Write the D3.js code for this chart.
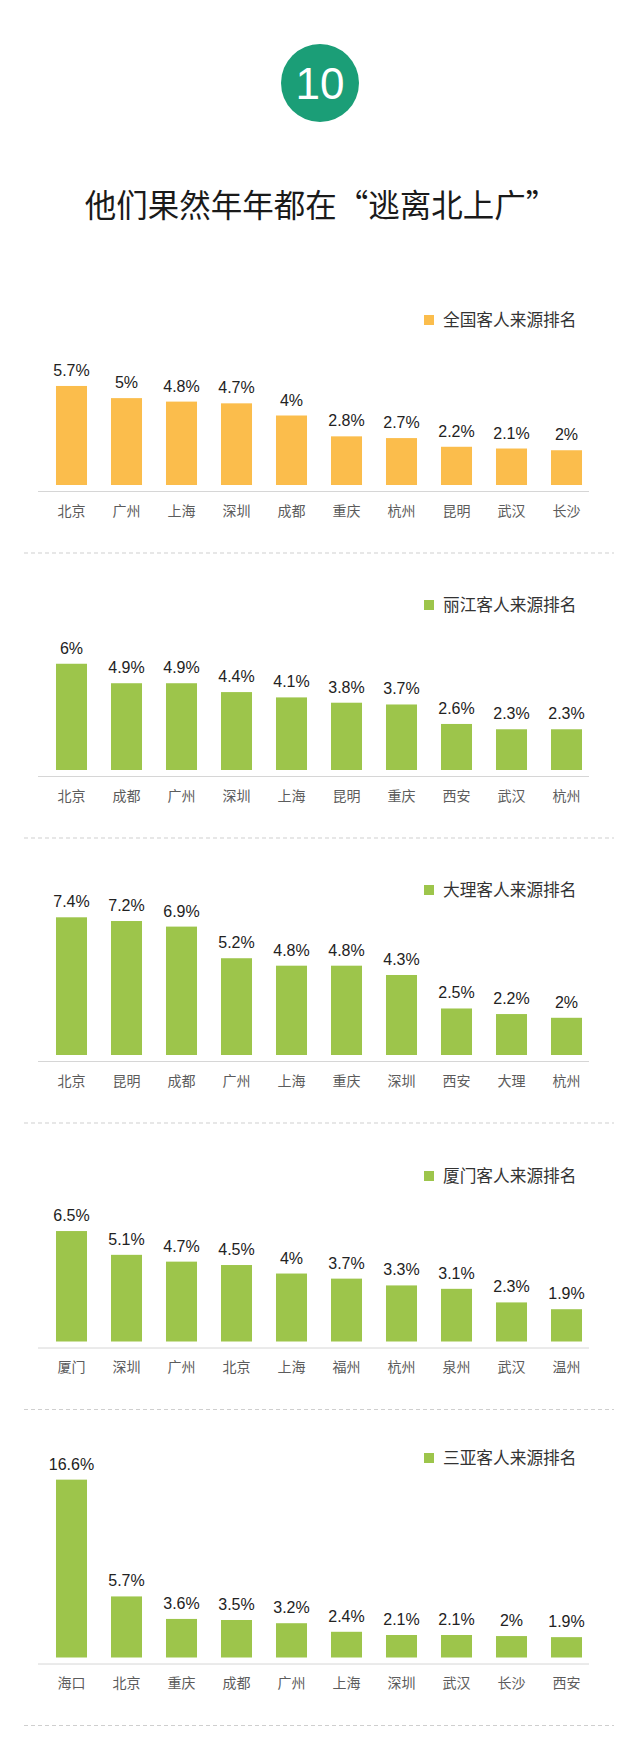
<html>
<head>
  <meta charset="utf-8">
  <script src="https://cdn.jsdelivr.net/npm/d3@7"></script>
  <style>
  body { margin: 0; background: #fff; }
  svg { display: block; }
  .cjk { font-family: "Noto Sans CJK SC", "Noto Sans", sans-serif; }
  .num { font-family: "Liberation Sans", Arial, sans-serif; }
  </style>
</head>
<body>
  <svg id="page" width="640" height="1737"></svg>
  <script>

var badge = "10";
var pageTitle = "他们果然年年都在“逃离北上广”";

var legendNames = ["全国客人来源排名", "丽江客人来源排名", "大理客人来源排名", "厦门客人来源排名", "三亚客人来源排名"];

var cities1 = ["北京", "广州", "上海", "深圳", "成都", "重庆", "杭州", "昆明", "武汉", "长沙"];
var values1 = [5.7, 5, 4.8, 4.7, 4, 2.8, 2.7, 2.2, 2.1, 2];

var cities2 = ["北京", "成都", "广州", "深圳", "上海", "昆明", "重庆", "西安", "武汉", "杭州"];
var values2 = [6, 4.9, 4.9, 4.4, 4.1, 3.8, 3.7, 2.6, 2.3, 2.3];

var cities3 = ["北京", "昆明", "成都", "广州", "上海", "重庆", "深圳", "西安", "大理", "杭州"];
var values3 = [7.4, 7.2, 6.9, 5.2, 4.8, 4.8, 4.3, 2.5, 2.2, 2];

var cities4 = ["厦门", "深圳", "广州", "北京", "上海", "福州", "杭州", "泉州", "武汉", "温州"];
var values4 = [6.5, 5.1, 4.7, 4.5, 4, 3.7, 3.3, 3.1, 2.3, 1.9];

var cities5 = ["海口", "北京", "重庆", "成都", "广州", "上海", "深圳", "武汉", "长沙", "西安"];
var values5 = [16.6, 5.7, 3.6, 3.5, 3.2, 2.4, 2.1, 2.1, 2, 1.9];

var charts = [
  {name: legendNames[0], cities: cities1, values: values1, color: "#fbbd4c"},
  {name: legendNames[1], cities: cities2, values: values2, color: "#9dc54b"},
  {name: legendNames[2], cities: cities3, values: values3, color: "#9dc54b"},
  {name: legendNames[3], cities: cities4, values: values4, color: "#9dc54b"},
  {name: legendNames[4], cities: cities5, values: values5, color: "#9dc54b"}
];

// layout of each panel (legend row, bar baseline, value axis)
var legendY = [320, 605, 890, 1176, 1458];
var baseY = [485, 770, 1055, 1341.5, 1657.5];
var plotH = [139, 139, 139, 139, 180];
var axisMax = [8, 7.85, 7.47, 8.18, 16.8];

var page = d3.select("#page");

// header
page.append("circle")
  .attr("cx", 320)
  .attr("cy", 83)
  .attr("r", 39)
  .attr("fill", "#1b9e77");

page.append("text")
  .attr("class", "num")
  .attr("x", 320)
  .attr("y", 83)
  .attr("dy", "0.36em")
  .attr("text-anchor", "middle")
  .attr("fill", "#fff")
  .style("font-size", "44px")
  .text(badge);

page.append("text")
  .attr("class", "cjk")
  .attr("x", 321)
  .attr("y", 206)
  .attr("dy", "0.36em")
  .attr("text-anchor", "middle")
  .attr("fill", "#1a1a1a")
  .style("font-size", "31.5px")
  .text(pageTitle);

var x = d3.scaleBand()
  .domain(d3.range(10))
  .range([44, 594])
  .paddingInner(0.436)
  .paddingOuter(0.218);

charts.forEach(function(c, i) {
  var y = d3.scaleLinear()
    .domain([0, axisMax[i]])
    .range([baseY[i], baseY[i] - plotH[i]]);

  var g = page.append("g");

  // legend
  g.append("rect")
    .attr("x", 424)
    .attr("y", legendY[i] - 5)
    .attr("width", 10)
    .attr("height", 10)
    .attr("fill", c.color);

  g.append("text")
    .attr("class", "cjk")
    .attr("x", 443)
    .attr("y", legendY[i])
    .attr("dy", "0.36em")
    .attr("fill", "#333")
    .style("font-size", "16.7px")
    .text(c.name);

  // bars
  g.selectAll(".bar")
    .data(c.values)
    .enter().append("rect")
      .attr("class", "bar")
      .attr("x", function(d, j) { return x(j); })
      .attr("width", x.bandwidth())
      .attr("y", function(d) { return y(d); })
      .attr("height", function(d) { return y(0) - y(d); })
      .attr("fill", c.color);

  g.selectAll(".val")
    .data(c.values)
    .enter().append("text")
      .attr("class", "num val")
      .attr("x", function(d, j) { return x(j) + x.bandwidth() / 2; })
      .attr("y", function(d) { return y(d) - 10; })
      .attr("text-anchor", "middle")
      .attr("fill", "#222")
      .style("font-size", "16px")
      .text(function(d) { return d + "%"; });

  // category axis
  g.append("line")
    .attr("x1", 38)
    .attr("x2", 589)
    .attr("y1", baseY[i] + 6.5)
    .attr("y2", baseY[i] + 6.5)
    .attr("stroke", "#d6d6d6")
    .attr("stroke-width", 1);

  g.selectAll(".cat")
    .data(c.cities)
    .enter().append("text")
      .attr("class", "cjk cat")
      .attr("x", function(d, j) { return x(j) + x.bandwidth() / 2; })
      .attr("y", baseY[i] + 25.5)
      .attr("dy", "0.36em")
      .attr("text-anchor", "middle")
      .attr("fill", "#5c5c5c")
      .style("font-size", "14px")
      .text(function(d) { return d; });

  // separator
  g.append("line")
    .attr("x1", 24)
    .attr("x2", 614)
    .attr("y1", baseY[i] + 68)
    .attr("y2", baseY[i] + 68)
    .attr("stroke", "#cfcfcf")
    .attr("stroke-width", 1)
    .attr("stroke-dasharray", "4,3");
});

  </script>
</body>
</html>
